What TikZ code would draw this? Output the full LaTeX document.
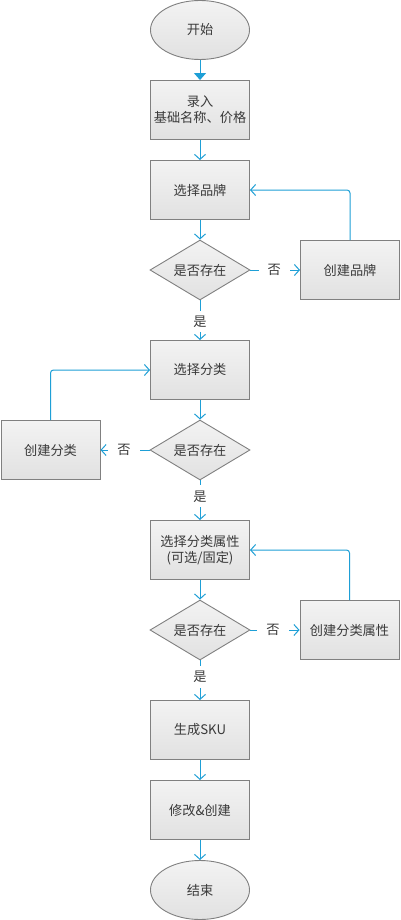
\documentclass[tikz,border=0pt]{standalone}
\usepackage{fontspec}
\setmainfont{Noto Sans CJK SC}
\usetikzlibrary{shapes.geometric,arrows.meta}
\definecolor{lineblue}{HTML}{1E9FD6}
\definecolor{edgegray}{HTML}{808080}
\definecolor{fillA}{HTML}{F3F3F3}
\definecolor{fillB}{HTML}{E1E1E1}
\definecolor{txt}{HTML}{3A3A3A}
\begin{document}
\begin{tikzpicture}[x=1pt,y=-1pt,
  base/.style={draw=edgegray, line width=0.9pt, top color=fillA, bottom color=fillB,
    text=txt, font=\fontsize{13.2}{16}\selectfont, align=center, inner sep=0pt},
  proc/.style={base, rectangle, minimum width=99pt, minimum height=59pt},
  term/.style={base, ellipse, minimum width=99pt, minimum height=59pt},
  dec/.style={base, diamond, shape aspect=1.67, minimum width=100pt, minimum height=60pt},
  conn/.style={draw=lineblue, line width=1pt},
  arr/.style={conn, -{Straight Barb[length=5pt,width=11pt,line width=1pt]}},
  tri/.style={conn, -{Triangle[length=7pt,width=12pt]}},
  lbl/.style={fill=white, text=txt, font=\fontsize{13.2}{16}\selectfont, inner xsep=9pt, inner ysep=5pt}
]
\fill[white] (0,0) rectangle (400,920);
\useasboundingbox (0,0) rectangle (400,920);

\node[term] (start) at (200,30) {开始};
\node[proc] (input) at (200,110) {录入\\基础名称、价格};
\node[proc] (brand) at (200,190) {选择品牌};
\node[dec]  (d1)    at (200,270) {是否存在};
\node[proc] (cb)    at (350,270) {创建品牌};
\node[proc] (cat)   at (200,370) {选择分类};
\node[dec]  (d2)    at (200,450) {是否存在};
\node[proc] (cc)    at (50.5,450) {创建分类};
\node[proc] (attr)  at (200,550) {选择分类属性\\(可选/固定)};
\node[dec]  (d3)    at (200,630) {是否存在};
\node[proc] (ca)    at (349.5,630) {创建分类属性};
\node[proc] (sku)   at (200,730) {生成SKU};
\node[proc] (mod)   at (200,810) {修改\&创建};
\node[term] (end)   at (200,890) {结束};

\draw[tri] (start) -- (input);
\draw[arr] (input) -- (brand);
\draw[arr] (brand) -- (d1);
\draw[arr] (d1) -- node[lbl, pos=0.48] {否} (cb);
\draw[arr, rounded corners=3pt] (cb.north) |- (brand.east);
\draw[arr] (d1) -- node[lbl, pos=0.53] {是} (cat);
\draw[arr] (cat) -- (d2);
\draw[arr] (d2) -- node[lbl, pos=0.52] {否} (cc);
\draw[arr, rounded corners=3pt] (cc.north) |- (cat.west);
\draw[arr] (d2) -- node[lbl, pos=0.4] {是} (attr);
\draw[arr] (attr) -- (d3);
\draw[arr] (d3) -- node[lbl, pos=0.46] {否} (ca);
\draw[arr, rounded corners=3pt] (ca.north) |- (attr.east);
\draw[arr] (d3) -- node[lbl, pos=0.42] {是} (sku);
\draw[arr] (sku) -- (mod);
\draw[arr] (mod) -- (end);
\end{tikzpicture}
\end{document}
